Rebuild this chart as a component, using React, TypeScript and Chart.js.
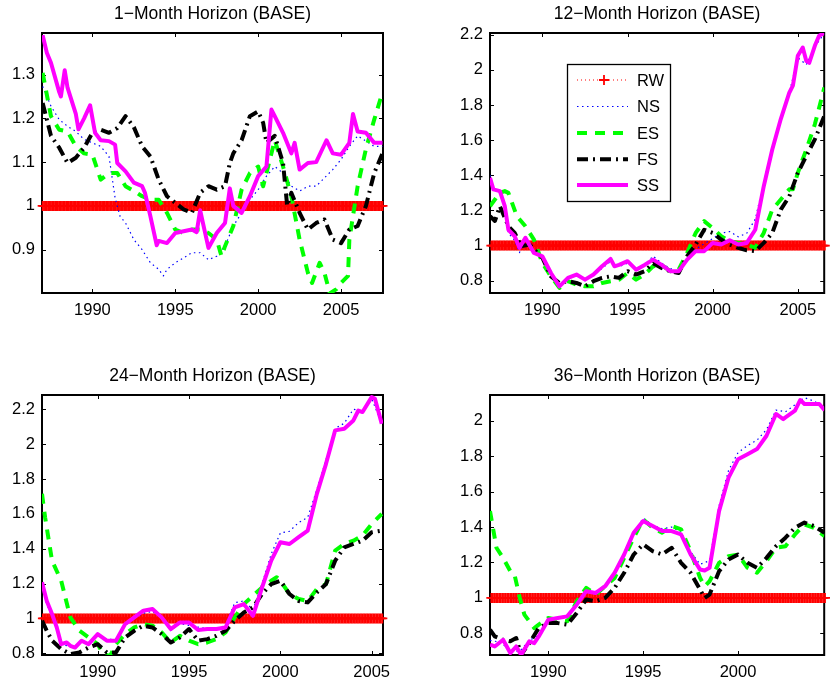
import React, { useEffect, useRef } from 'react';
import { Chart, registerables } from 'chart.js';

Chart.register(...registerables);

type Pt = [number, number];

// ---------- texts & ticks ----------
const titles = [
  '1−Month Horizon (BASE)',
  '12−Month Horizon (BASE)',
  '24−Month Horizon (BASE)',
  '36−Month Horizon (BASE)',
];
const seriesLabels = ['RW', 'NS', 'ES', 'FS', 'SS'];
const xTickYears = [1990, 1995, 2000, 2005];
const yTicks1 = [0.9, 1, 1.1, 1.2, 1.3];
const yTicks2 = [0.8, 1, 1.2, 1.4, 1.6, 1.8, 2, 2.2];
const yTicks3 = [0.8, 1, 1.2, 1.4, 1.6, 1.8, 2, 2.2];
const yTicks4 = [0.8, 1, 1.2, 1.4, 1.6, 1.8, 2];
const rwLevel = 1;
const rwSpans: Pt[] = [
  [1987.0, 2007.5],
  [1987.0, 2006.55],
  [1987.0, 2005.6],
  [1987.0, 2004.55],
];

// ---------- panel 1 : 1-month ----------
const ns1: Pt[] = [[1987.0,1.273],[1987.5,1.228],[1988.0,1.197],[1988.5,1.182],[1989.0,1.17],[1989.5,1.152],[1990.0,1.144],[1990.5,1.136],[1991.0,1.113],[1991.37,1.018],[1991.67,0.976],[1992.0,0.961],[1992.5,0.923],[1993.0,0.90],[1993.5,0.87],[1994.0,0.855],[1994.28,0.84],[1994.5,0.855],[1995.0,0.87],[1995.5,0.881],[1996.0,0.893],[1996.5,0.893],[1997.0,0.877],[1997.5,0.885],[1998.0,0.908],[1998.5,0.954],[1999.0,0.984],[1999.5,1.014],[2000.0,1.037],[2000.5,1.068],[2001.0,1.09],[2001.5,1.075],[2002.0,1.045],[2002.5,1.034],[2003.0,1.045],[2003.5,1.045],[2004.0,1.064],[2004.5,1.083],[2005.0,1.106],[2005.5,1.136],[2006.0,1.16],[2006.5,1.148],[2007.0,1.136],[2007.5,1.136]];
const es1: Pt[] = [[1987.0,1.304],[1987.5,1.205],[1988.0,1.174],[1988.5,1.17],[1989.0,1.136],[1989.5,1.12],[1990.0,1.117],[1990.5,1.06],[1991.0,1.075],[1991.5,1.075],[1992.0,1.045],[1992.5,1.034],[1993.0,1.022],[1993.5,1.014],[1994.0,1.014],[1994.5,0.984],[1995.0,0.946],[1995.5,0.938],[1996.0,0.946],[1996.5,0.946],[1997.0,0.938],[1997.5,0.923],[1997.79,0.885],[1998.0,0.908],[1998.5,0.954],[1999.0,1.037],[1999.5,1.075],[2000.0,1.09],[2000.3,1.045],[2000.5,1.075],[2001.0,1.15],[2001.5,1.09],[2002.0,1.022],[2002.5,0.923],[2003.0,0.847],[2003.25,0.824],[2003.71,0.87],[2004.0,0.847],[2004.32,0.80],[2004.72,0.81],[2005.0,0.824],[2005.42,0.84],[2005.5,0.923],[2006.0,1.045],[2006.5,1.13],[2007.0,1.197],[2007.5,1.26]];
const fs1: Pt[] = [[1987.0,1.235],[1987.5,1.16],[1988.0,1.133],[1988.5,1.098],[1989.0,1.11],[1989.5,1.133],[1990.0,1.167],[1990.5,1.174],[1991.0,1.167],[1991.5,1.178],[1992.0,1.205],[1992.5,1.18],[1993.0,1.136],[1993.5,1.113],[1994.0,1.06],[1994.5,1.022],[1995.0,1.007],[1995.5,0.992],[1996.0,0.984],[1996.5,1.03],[1997.0,1.045],[1997.5,1.037],[1998.0,1.045],[1998.29,1.098],[1998.5,1.12],[1999.0,1.15],[1999.5,1.205],[2000.0,1.216],[2000.3,1.19],[2000.5,1.144],[2001.0,1.16],[2001.5,1.098],[2001.75,1.0],[2002.0,1.03],[2002.5,0.984],[2003.0,0.946],[2003.5,0.961],[2004.0,0.969],[2004.5,0.923],[2005.0,0.915],[2005.5,0.946],[2006.0,0.954],[2006.5,1.0],[2007.0,1.075],[2007.5,1.12]];
const ss1: Pt[] = [[1987.0,1.39],[1987.25,1.35],[1987.5,1.327],[1988.0,1.26],[1988.1,1.25],[1988.33,1.31],[1988.5,1.27],[1989.0,1.21],[1989.16,1.175],[1989.5,1.20],[1989.86,1.23],[1990.16,1.167],[1990.5,1.15],[1991.0,1.148],[1991.37,1.14],[1991.5,1.098],[1992.0,1.079],[1992.5,1.053],[1993.0,1.045],[1993.17,1.03],[1993.5,0.976],[1993.88,0.91],[1994.0,0.92],[1994.5,0.915],[1995.0,0.938],[1995.5,0.942],[1996.0,0.946],[1996.29,0.94],[1996.5,0.99],[1996.79,0.94],[1997.0,0.904],[1997.5,0.938],[1998.0,0.961],[1998.29,1.04],[1998.5,1.0],[1999.0,0.984],[1999.5,1.022],[2000.0,1.068],[2000.5,1.09],[2000.8,1.22],[2001.0,1.205],[2001.5,1.167],[2002.0,1.12],[2002.2,1.144],[2002.5,1.083],[2003.0,1.098],[2003.5,1.10],[2004.12,1.15],[2004.5,1.12],[2005.0,1.117],[2005.5,1.144],[2005.72,1.21],[2006.0,1.17],[2006.5,1.167],[2007.0,1.144],[2007.5,1.144]];

// ---------- panel 2 : 12-month ----------
const ns2: Pt[] = [[1986.92,1.40],[1987.12,1.33],[1987.5,1.30],[1987.79,1.22],[1988.0,1.07],[1988.37,1.03],[1988.65,0.96],[1989.0,1.03],[1989.5,0.96],[1990.0,0.93],[1990.5,0.84],[1991.0,0.775],[1991.5,0.81],[1992.0,0.83],[1992.5,0.80],[1993.0,0.83],[1993.5,0.87],[1994.0,0.91],[1994.5,0.88],[1995.0,0.90],[1995.5,0.87],[1996.0,0.89],[1996.5,0.94],[1997.0,0.90],[1997.5,0.87],[1998.0,0.85],[1998.5,0.92],[1999.0,0.98],[1999.5,1.01],[2000.0,1.04],[2000.5,1.07],[2001.0,1.08],[2001.5,1.05],[2002.0,1.07],[2002.5,1.15],[2003.0,1.36],[2003.5,1.56],[2004.0,1.73],[2004.5,1.87],[2005.0,2.07],[2005.5,2.03],[2006.0,2.13],[2006.56,2.21]];
const es2: Pt[] = [[1986.92,1.224],[1987.5,1.30],[1987.79,1.31],[1988.0,1.30],[1988.5,1.167],[1989.0,1.11],[1989.5,1.034],[1990.0,0.90],[1990.5,0.825],[1991.0,0.759],[1991.5,0.797],[1992.0,0.778],[1992.5,0.768],[1993.0,0.768],[1993.5,0.787],[1994.0,0.797],[1994.5,0.806],[1995.0,0.844],[1995.5,0.806],[1996.0,0.835],[1996.5,0.882],[1997.0,0.89],[1997.5,0.854],[1998.0,0.863],[1998.5,0.958],[1999.0,1.072],[1999.5,1.139],[2000.0,1.10],[2000.5,1.053],[2001.0,1.025],[2001.5,1.015],[2002.0,1.006],[2002.5,0.987],[2003.0,1.072],[2003.5,1.205],[2004.0,1.262],[2004.5,1.32],[2004.71,1.32],[2005.0,1.414],[2005.5,1.547],[2006.0,1.69],[2006.56,1.90]];
const fs2: Pt[] = [[1986.92,1.167],[1987.21,1.14],[1987.5,1.224],[1988.0,1.11],[1988.37,1.072],[1988.75,0.996],[1989.23,1.006],[1989.71,0.958],[1990.0,0.93],[1990.5,0.825],[1991.0,0.787],[1991.5,0.797],[1992.0,0.787],[1992.5,0.768],[1993.0,0.797],[1993.5,0.816],[1994.0,0.825],[1994.5,0.816],[1995.0,0.854],[1995.5,0.835],[1996.0,0.854],[1996.5,0.90],[1997.0,0.873],[1997.5,0.854],[1998.0,0.844],[1998.5,0.939],[1999.0,1.006],[1999.5,1.09],[2000.0,1.072],[2000.5,1.034],[2001.0,1.006],[2001.5,0.987],[2002.0,0.973],[2002.5,0.968],[2003.0,1.015],[2003.5,1.072],[2004.0,1.205],[2004.5,1.28],[2005.0,1.414],[2005.5,1.51],[2006.0,1.605],[2006.56,1.738]];
const ss2: Pt[] = [[1986.92,1.386],[1987.12,1.32],[1987.5,1.31],[1987.79,1.224],[1988.0,1.09],[1988.37,1.053],[1988.65,0.987],[1989.0,1.044],[1989.5,0.958],[1990.0,0.939],[1990.5,0.844],[1991.0,0.768],[1991.5,0.816],[1992.0,0.835],[1992.5,0.806],[1993.0,0.835],[1993.5,0.882],[1994.0,0.924],[1994.23,0.882],[1994.5,0.89],[1995.0,0.911],[1995.5,0.863],[1996.0,0.89],[1996.5,0.92],[1997.0,0.89],[1997.5,0.854],[1998.0,0.854],[1998.5,0.92],[1999.0,0.968],[1999.5,0.968],[2000.0,1.015],[2000.5,1.006],[2001.0,1.03],[2001.5,1.006],[2002.0,1.015],[2002.5,1.09],[2003.0,1.338],[2003.5,1.547],[2004.0,1.72],[2004.5,1.87],[2004.71,1.91],[2005.0,2.08],[2005.29,2.127],[2005.5,2.05],[2005.67,2.04],[2006.0,2.137],[2006.25,2.194],[2006.56,2.21]];

// ---------- panel 3 : 24-month ----------
const ns3: Pt[] = [[1986.95,1.18],[1987.21,1.08],[1987.5,1.01],[1987.76,0.94],[1988.0,0.85],[1988.5,0.84],[1988.76,0.83],[1989.12,0.87],[1989.5,0.85],[1990.0,0.91],[1990.5,0.88],[1991.0,0.88],[1991.5,0.96],[1992.0,1.0],[1992.5,1.03],[1993.0,1.04],[1993.5,1.0],[1994.0,0.93],[1994.5,0.97],[1995.0,0.96],[1995.5,0.95],[1996.0,0.94],[1996.5,0.94],[1997.0,0.96],[1997.5,1.09],[1998.0,1.10],[1998.5,1.05],[1999.0,1.20],[1999.5,1.37],[2000.0,1.49],[2000.5,1.50],[2001.0,1.55],[2001.5,1.58],[2002.0,1.74],[2002.5,1.91],[2003.0,2.09],[2003.5,2.12],[2004.0,2.20],[2004.5,2.19],[2005.0,2.26],[2005.55,2.12]];
const es3: Pt[] = [[1986.95,1.715],[1987.12,1.58],[1987.5,1.331],[1988.0,1.216],[1988.5,1.006],[1989.0,0.929],[1989.5,0.891],[1990.0,0.852],[1990.31,0.795],[1990.68,0.785],[1991.0,0.852],[1991.5,0.91],[1992.0,0.948],[1992.5,0.967],[1993.0,0.958],[1993.5,0.92],[1994.0,0.862],[1994.5,0.90],[1995.0,0.872],[1995.5,0.852],[1996.0,0.862],[1996.5,0.881],[1997.0,0.92],[1997.5,1.006],[1998.0,1.082],[1998.5,1.13],[1999.0,1.178],[1999.5,1.216],[1999.8,1.236],[2000.0,1.216],[2000.5,1.14],[2001.0,1.111],[2001.5,1.10],[2002.0,1.169],[2002.5,1.197],[2003.0,1.389],[2003.5,1.427],[2004.0,1.446],[2004.5,1.475],[2005.0,1.542],[2005.55,1.60]];
const fs3: Pt[] = [[1986.95,0.987],[1987.21,0.929],[1987.5,0.872],[1988.0,0.824],[1988.5,0.795],[1989.0,0.805],[1989.5,0.833],[1990.0,0.852],[1990.5,0.805],[1991.0,0.805],[1991.5,0.891],[1992.0,0.929],[1992.5,0.958],[1993.0,0.948],[1993.5,0.91],[1994.0,0.862],[1994.5,0.891],[1995.0,0.939],[1995.5,0.872],[1996.0,0.881],[1996.5,0.90],[1997.0,0.929],[1997.5,0.987],[1998.0,1.034],[1998.5,1.063],[1999.0,1.14],[1999.5,1.197],[2000.0,1.216],[2000.5,1.14],[2001.0,1.10],[2001.5,1.092],[2002.0,1.149],[2002.5,1.197],[2003.0,1.331],[2003.5,1.408],[2004.0,1.427],[2004.5,1.446],[2005.0,1.494],[2005.55,1.504]];
const ss3: Pt[] = [[1986.95,1.207],[1987.21,1.10],[1987.5,1.025],[1987.76,0.948],[1988.0,0.852],[1988.3,0.862],[1988.5,0.843],[1988.76,0.833],[1989.12,0.872],[1989.5,0.852],[1990.0,0.91],[1990.5,0.872],[1991.0,0.872],[1991.5,0.967],[1992.0,1.006],[1992.5,1.044],[1993.0,1.054],[1993.5,1.006],[1994.0,0.939],[1994.5,0.977],[1995.0,0.977],[1995.5,0.933],[1996.0,0.939],[1996.5,0.939],[1997.0,0.948],[1997.5,1.063],[1998.0,1.082],[1998.5,1.015],[1999.0,1.178],[1999.5,1.331],[2000.0,1.437],[2000.5,1.427],[2001.0,1.466],[2001.5,1.504],[2002.0,1.715],[2002.5,1.887],[2003.0,2.079],[2003.5,2.088],[2004.0,2.136],[2004.27,2.193],[2004.5,2.184],[2005.0,2.27],[2005.18,2.26],[2005.55,2.117]];

// ---------- panel 4 : 36-month ----------
const ns4: Pt[] = [[1986.93,0.76],[1987.5,0.75],[1988.0,0.70],[1988.5,0.70],[1989.0,0.76],[1989.5,0.79],[1990.0,0.87],[1990.5,0.89],[1991.0,0.90],[1991.5,0.96],[1992.0,1.03],[1992.5,1.03],[1993.0,1.07],[1993.5,1.15],[1994.0,1.25],[1994.5,1.37],[1995.0,1.45],[1995.5,1.41],[1996.0,1.39],[1996.5,1.40],[1997.0,1.37],[1997.5,1.26],[1998.0,1.19],[1998.5,1.21],[1999.0,1.52],[1999.5,1.72],[2000.0,1.82],[2000.5,1.86],[2001.0,1.89],[2001.5,1.95],[2002.0,2.06],[2002.5,2.05],[2003.0,2.09],[2003.5,2.13],[2004.0,2.11],[2004.56,2.08]];
const es4: Pt[] = [[1986.93,1.49],[1987.27,1.283],[1987.62,1.226],[1988.0,1.151],[1988.22,1.132],[1988.5,1.0],[1988.74,0.906],[1989.0,0.868],[1989.26,0.83],[1989.5,0.849],[1990.0,0.887],[1990.5,0.877],[1991.0,0.868],[1991.5,0.981],[1992.0,1.057],[1992.5,1.019],[1993.0,1.066],[1993.5,1.113],[1994.0,1.226],[1994.5,1.34],[1995.0,1.443],[1995.5,1.396],[1996.0,1.368],[1996.5,1.406],[1997.0,1.387],[1997.5,1.264],[1998.0,1.113],[1998.24,1.066],[1998.5,1.094],[1999.0,1.198],[1999.5,1.236],[2000.0,1.245],[2000.5,1.17],[2001.0,1.142],[2001.5,1.208],[2002.0,1.283],[2002.5,1.292],[2003.0,1.358],[2003.5,1.415],[2004.0,1.396],[2004.56,1.349]];
const fs4: Pt[] = [[1986.93,0.821],[1987.18,0.783],[1987.62,0.764],[1988.0,0.755],[1988.31,0.774],[1988.57,0.679],[1989.0,0.745],[1989.5,0.83],[1990.0,0.858],[1990.5,0.858],[1991.0,0.849],[1991.5,0.915],[1992.0,0.991],[1992.5,0.981],[1993.0,1.0],[1993.5,1.057],[1994.0,1.142],[1994.5,1.245],[1995.0,1.302],[1995.5,1.264],[1996.0,1.245],[1996.5,1.283],[1997.0,1.198],[1997.5,1.142],[1998.0,1.047],[1998.24,1.0],[1998.5,1.019],[1999.0,1.151],[1999.5,1.217],[2000.0,1.245],[2000.5,1.198],[2001.0,1.17],[2001.5,1.226],[2002.0,1.292],[2002.5,1.34],[2003.0,1.396],[2003.5,1.425],[2004.0,1.406],[2004.56,1.368]];
const ss4: Pt[] = [[1986.93,0.736],[1987.18,0.726],[1987.62,0.764],[1988.0,0.689],[1988.31,0.726],[1988.57,0.679],[1989.0,0.755],[1989.26,0.745],[1989.5,0.783],[1990.0,0.877],[1990.5,0.887],[1991.0,0.896],[1991.5,0.962],[1992.0,1.038],[1992.5,1.028],[1993.0,1.066],[1993.5,1.142],[1994.0,1.245],[1994.5,1.368],[1995.0,1.434],[1995.5,1.406],[1996.0,1.377],[1996.5,1.377],[1997.0,1.358],[1997.5,1.245],[1998.0,1.16],[1998.24,1.155],[1998.5,1.17],[1999.0,1.49],[1999.5,1.679],[2000.0,1.783],[2000.5,1.811],[2001.0,1.84],[2001.5,1.915],[2002.0,2.038],[2002.38,2.009],[2002.5,2.019],[2003.0,2.057],[2003.28,2.117],[2003.5,2.094],[2004.0,2.094],[2004.28,2.094],[2004.56,2.06]];

// ---------- layout of the four panels ----------
const FONT = "'Liberation Sans', Arial, Helvetica, sans-serif";

const panels = [
  { title: titles[0], left: 0, top: 0, w: 415, h: 343, padTop: 33, padRight: 32, yWidth: 42, xHeight: 50,
    xMin: 1986.96, xMax: 2007.53, yMin: 0.801, yMax: 1.395, yTicks: yTicks1, rw: rwSpans[0],
    series: [ns1, es1, fs1, ss1], legend: false },
  { title: titles[1], left: 415, top: 0, w: 416, h: 343, padTop: 33, padRight: 1, yWidth: 75, xHeight: 50,
    xMin: 1986.92, xMax: 2006.55, yMin: 0.73, yMax: 2.21, yTicks: yTicks2, rw: rwSpans[1],
    series: [ns2, es2, fs2, ss2], legend: true },
  { title: titles[2], left: 0, top: 343, w: 415, h: 343, padTop: 52, padRight: 32, yWidth: 42, xHeight: 31,
    xMin: 1986.95, xMax: 2005.62, yMin: 0.79, yMax: 2.282, yTicks: yTicks3, rw: rwSpans[2],
    series: [ns3, es3, fs3, ss3], legend: false },
  { title: titles[3], left: 415, top: 343, w: 416, h: 343, padTop: 52, padRight: 1, yWidth: 75, xHeight: 31,
    xMin: 1986.93, xMax: 2004.54, yMin: 0.678, yMax: 2.145, yTicks: yTicks4, rw: rwSpans[3],
    series: [ns4, es4, fs4, ss4], legend: false },
];

// line styles for NS, ES, FS, SS
const lineStyles = [
  { color: '#0000ff', width: 1.2, dash: [1.5, 3.5], order: 3 },
  { color: '#00ff00', width: 4, dash: [10, 8], order: 2 },
  { color: '#000000', width: 4, dash: [11, 5, 2, 5], order: 1 },
  { color: '#ff00ff', width: 4, dash: [] as number[], order: 0 },
];

function rwPoints(span: Pt) {
  const n = Math.round((span[1] - span[0]) * 12);
  const pts: { x: number; y: number }[] = [];
  for (let i = 0; i <= n; i++) pts.push({ x: span[0] + i / 12, y: rwLevel });
  return pts;
}

const boxPlugin = {
  id: 'matlabBox',
  beforeDatasetsDraw(chart: any) {
    const { ctx, chartArea: a, scales } = chart;
    const L = 4;
    ctx.save();
    ctx.strokeStyle = '#000';
    ctx.lineWidth = 1;
    ctx.beginPath();
    scales.x.ticks.forEach((t: any) => {
      const px = Math.round(scales.x.getPixelForValue(t.value)) + 0.5;
      ctx.moveTo(px, a.bottom); ctx.lineTo(px, a.bottom - L);
      ctx.moveTo(px, a.top); ctx.lineTo(px, a.top + L);
    });
    scales.y.ticks.forEach((t: any) => {
      const py = Math.round(scales.y.getPixelForValue(t.value)) + 0.5;
      ctx.moveTo(a.left, py); ctx.lineTo(a.left + L, py);
      ctx.moveTo(a.right, py); ctx.lineTo(a.right - L, py);
    });
    ctx.stroke();
    ctx.lineWidth = 2;
    ctx.strokeRect(a.left, a.top, a.right - a.left, a.bottom - a.top);
    ctx.restore();
  },
};

const titlePlugin = {
  id: 'panelTitle',
  afterDraw(chart: any, _args: any, opts: any) {
    const { ctx, chartArea: a } = chart;
    ctx.save();
    ctx.fillStyle = '#000';
    ctx.font = `17.5px ${FONT}`;
    ctx.textAlign = 'center';
    ctx.textBaseline = 'middle';
    ctx.fillText(opts.text, (a.left + a.right) / 2, a.top - 18.5);
    ctx.restore();
  },
};

const legendPlugin = {
  id: 'panelLegend',
  afterDraw(chart: any, _args: any, opts: any) {
    if (!opts.show) return;
    const { ctx } = chart;
    const bx = 152, by = 64.5, bw = 103, bh = 137;
    ctx.save();
    ctx.fillStyle = '#fff';
    ctx.fillRect(bx, by, bw, bh);
    ctx.strokeStyle = '#000';
    ctx.lineWidth = 1.3;
    ctx.strokeRect(bx + 0.5, by, bw, bh);
    const rowY = [80, 106.5, 133, 159.3, 185];
    chart.data.datasets.forEach((ds: any, i: number) => {
      const y = rowY[i];
      ctx.save();
      ctx.strokeStyle = ds.borderColor;
      ctx.lineWidth = ds.borderWidth;
      ctx.setLineDash(ds.borderDash || []);
      ctx.beginPath();
      ctx.moveTo(162, y);
      ctx.lineTo(213, y);
      ctx.stroke();
      ctx.restore();
      if (ds.pointStyle === 'cross') {
        ctx.save();
        ctx.strokeStyle = ds.borderColor;
        ctx.lineWidth = 1.8;
        ctx.beginPath();
        ctx.moveTo(189 - 5, y); ctx.lineTo(189 + 5, y);
        ctx.moveTo(189, y - 5); ctx.lineTo(189, y + 5);
        ctx.stroke();
        ctx.restore();
      }
      ctx.fillStyle = '#000';
      ctx.font = `16.5px ${FONT}`;
      ctx.textAlign = 'left';
      ctx.textBaseline = 'middle';
      ctx.fillText(ds.label, 222, y + 1);
    });
    ctx.restore();
  },
};

function buildConfig(p: any) {
  const datasets: any[] = [
    {
      label: seriesLabels[0],
      data: rwPoints(p.rw),
      borderColor: '#ff0000',
      borderWidth: 1,
      borderDash: [1, 3],
      pointStyle: 'cross',
      pointRadius: 5,
      pointBorderWidth: 1.8,
      pointBorderColor: '#ff0000',
      pointBackgroundColor: '#ff0000',
      order: 4,
      clip: { left: 6, right: 6, top: 0, bottom: 0 },
    },
  ];
  p.series.forEach((s: Pt[], i: number) => {
    const st = lineStyles[i];
    datasets.push({
      label: seriesLabels[i + 1],
      data: s.map(([x, y]) => ({ x, y })),
      borderColor: st.color,
      borderWidth: st.width,
      borderDash: st.dash,
      pointRadius: 0,
      order: st.order,
      borderJoinStyle: 'round',
    });
  });
  const tickFont = { family: FONT, size: 16.5 };
  return {
    type: 'line',
    data: { datasets },
    options: {
      responsive: false,
      animation: false,
      devicePixelRatio: 1,
      parsing: false,
      layout: { padding: { top: p.padTop, right: p.padRight, left: 0, bottom: 0 } },
      elements: { line: { tension: 0 } },
      plugins: {
        legend: { display: false },
        tooltip: { enabled: false },
        title: { display: false },
        panelTitle: { text: p.title },
        panelLegend: { show: p.legend },
      },
      scales: {
        x: {
          type: 'linear',
          min: p.xMin,
          max: p.xMax,
          grid: { display: false, drawTicks: false },
          border: { display: false },
          ticks: { font: tickFont, color: '#000', padding: 8, autoSkip: false, maxRotation: 0, callback: (v: any) => String(v) },
          afterBuildTicks: (s: any) => {
            s.ticks = xTickYears.filter((v) => v >= p.xMin && v <= p.xMax).map((v) => ({ value: v }));
          },
          afterFit: (s: any) => { s.height = p.xHeight; },
        },
        y: {
          type: 'linear',
          min: p.yMin,
          max: p.yMax,
          grid: { display: false, drawTicks: false },
          border: { display: false },
          ticks: { font: tickFont, color: '#000', padding: 7, autoSkip: false, callback: (v: any) => String(+Number(v).toFixed(2)) },
          afterBuildTicks: (s: any) => {
            s.ticks = p.yTicks.map((v: number) => ({ value: v }));
          },
          afterFit: (s: any) => { s.width = p.yWidth; },
        },
      },
    },
    plugins: [boxPlugin, titlePlugin, legendPlugin],
  };
}

function Panel({ p }: { p: any }) {
  const ref = useRef<HTMLCanvasElement>(null);
  useEffect(() => {
    const chart = new Chart(ref.current as HTMLCanvasElement, buildConfig(p) as any);
    return () => chart.destroy();
  }, []);
  return (
    <canvas
      ref={ref}
      width={p.w}
      height={p.h}
      style={{ position: 'absolute', left: p.left, top: p.top, width: p.w, height: p.h, display: 'block' }}
    />
  );
}

export default function App() {
  return (
    <div style={{ position: 'absolute', left: 0, top: 0, width: 831, height: 686, background: '#fff' }}>
      {panels.map((p, i) => (
        <Panel key={i} p={p} />
      ))}
    </div>
  );
}
